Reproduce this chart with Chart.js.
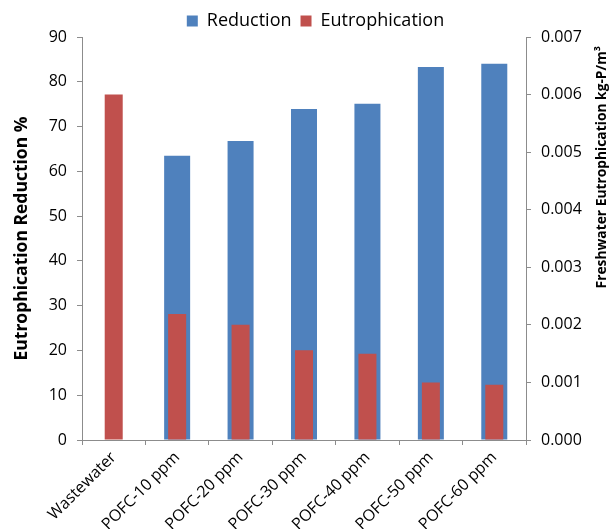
<!DOCTYPE html>
<html>
<head>
<meta charset="utf-8">
<script src="https://cdn.jsdelivr.net/npm/chart.js@4/dist/chart.umd.min.js"></script>
<style>
  html, body { margin: 0; padding: 0; background: #fff; overflow: hidden; }
  #wrap { width: 611px; height: 529px; }
</style>
</head>
<body>
<div id="wrap"><canvas id="chart" width="611" height="529"></canvas></div>
<script>
const categories = ['Wastewater', 'POFC-10 ppm', 'POFC-20 ppm', 'POFC-30 ppm', 'POFC-40 ppm', 'POFC-50 ppm', 'POFC-60 ppm']
const reduction = [null, 63.5, 66.8, 73.9, 75.1, 83.3, 84.0]          // %
const eutrophication = [0.0060, 0.00219, 0.0020, 0.00156, 0.0015, 0.0010, 0.00096]  // kg-P/m3
const leftTicks = { max: 90, step: 10 }
const rightTicks = { max: 0.007, step: 0.001 }

const axisGrey = '#8c8c8c'
const font = "'Open Sans', sans-serif"

// right axis title reads bottom-to-top like the left one
const rightTitle = {
    id: 'rightTitle',
    afterDraw(chart) {
        const ctx = chart.ctx
        const s = chart.scales.y2
        ctx.save()
        ctx.translate(s.right - 9, chart.chartArea.top + 9)
        ctx.rotate(-Math.PI / 2)
        ctx.font = 'bold 13.8px ' + font
        ctx.fillStyle = '#000'
        ctx.textAlign = 'right'
        ctx.textBaseline = 'middle'
        ctx.fillText('Freshwater Eutrophication kg-P/m³', 0, 0)
        ctx.restore()
    }
}

// nudge the legend a little right and down
const legendShift = {
    id: 'legendShift',
    afterLayout(chart) {
        const l = chart.legend
        l.left += 10
        l.right += 10
        l.top += 3
        l.bottom += 3
    }
}

new Chart(document.querySelector('#chart').getContext('2d'), {
    type: 'bar',
    data: {
        labels: categories,
        datasets: [
            {
                label: 'Reduction',
                data: reduction,
                yAxisID: 'y',
                backgroundColor: '#4f81bd',
                grouped: false,
                order: 1,
                barPercentage: 0.41,
                categoryPercentage: 1,
            },
            {
                label: 'Eutrophication',
                data: eutrophication,
                yAxisID: 'y2',
                backgroundColor: '#c0504d',
                grouped: false,
                order: 0,
                barPercentage: 0.284,
                categoryPercentage: 1,
            }
        ]
    },
    options: {
        responsive: false,
        animation: false,
        layout: { padding: 0 },
        plugins: {
            legend: {
                reverse: true,
                labels: {
                    boxWidth: 11,
                    boxHeight: 11,
                    padding: 9,
                    color: '#000',
                    font: { family: font, size: 18 },
                },
            },
            tooltip: { enabled: false },
        },
        scales: {
            x: {
                afterFit(scale) { scale.height = 89 },
                border: { color: axisGrey },
                grid: { display: true, drawOnChartArea: false, tickLength: 5, color: axisGrey },
                ticks: {
                    minRotation: 45,
                    maxRotation: 45,
                    color: '#000',
                    font: { family: font, size: 16 },
                },
            },
            y: {
                position: 'left',
                min: 0,
                max: leftTicks.max,
                afterFit(scale) { scale.width = 82 },
                border: { color: axisGrey },
                grid: { display: true, drawOnChartArea: false, tickLength: 5, color: axisGrey },
                ticks: {
                    stepSize: leftTicks.step,
                    padding: 10,
                    color: '#000',
                    font: { family: font, size: 16 },
                },
                title: {
                    display: true,
                    text: 'Eutrophication Reduction %',
                    color: '#000',
                    padding: { top: 12, bottom: 0 },
                    font: { family: font, size: 17.5, weight: 'bold' },
                },
            },
            y2: {
                position: 'right',
                min: 0,
                max: rightTicks.max,
                afterFit(scale) { scale.width = 85 },
                border: { color: axisGrey },
                grid: { display: true, drawOnChartArea: false, tickLength: 5, color: axisGrey },
                ticks: {
                    stepSize: rightTicks.step,
                    padding: 10,
                    color: '#000',
                    font: { family: font, size: 16 },
                    callback: v => v.toFixed(3),
                },
            },
        },
    },
    plugins: [rightTitle, legendShift],
})
</script>
</body>
</html>
